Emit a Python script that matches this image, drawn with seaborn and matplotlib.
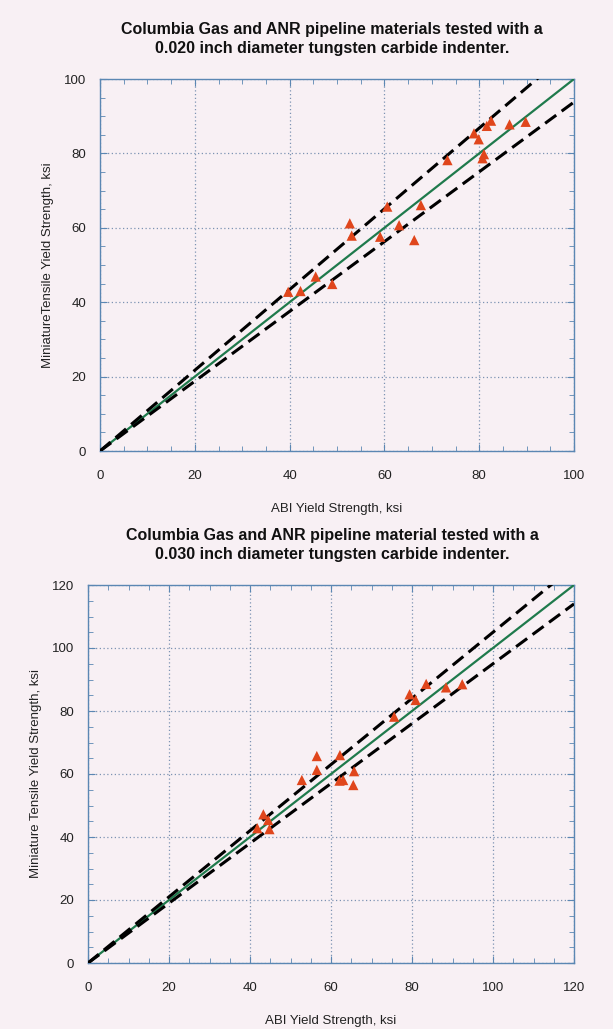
import matplotlib
matplotlib.use("Agg")
import matplotlib.pyplot as plt
from matplotlib.ticker import MultipleLocator
import seaborn as sns

# top panel: 0.020 inch indenter
top_abi = [39.7, 42.3, 45.5, 49.0, 52.7, 53.1, 59.1, 60.6, 63.1, 66.3,
           67.7, 73.3, 78.9, 79.9, 81.6, 82.5, 86.4, 89.8, 80.7, 81.0]
top_mini = [42.8, 43.0, 46.9, 44.9, 61.2, 57.9, 57.6, 65.7, 60.7, 56.7,
            66.1, 78.2, 85.4, 83.8, 87.4, 88.8, 87.8, 88.5, 78.7, 79.8]
top_line_x = [0, 100]
top_fit = [0, 100]
top_upper = [0, 108.5]
top_lower = [0, 93.8]

# bottom panel: 0.030 inch indenter
bot_abi = [41.8, 43.3, 44.5, 44.8, 52.8, 56.5, 56.5, 62.2, 62.1, 63.0,
           65.7, 65.5, 75.6, 79.4, 80.9, 83.5, 88.4, 92.4]
bot_mini = [42.8, 47.2, 45.4, 42.5, 58.1, 65.7, 61.3, 66.0, 57.9, 58.1,
            60.9, 56.5, 78.2, 85.3, 83.5, 88.6, 87.5, 88.5]
bot_line_x = [0, 120]
bot_fit = [0, 120]
bot_upper = [0, 126]
bot_lower = [0, 114]

top_title = ("Columbia Gas and ANR pipeline materials tested with a\n"
             "0.020 inch diameter tungsten carbide indenter.")
bot_title = ("Columbia Gas and ANR pipeline material tested with a\n"
             "0.030 inch diameter tungsten carbide indenter.")

bg = "#f8f0f4"
spine_c = "#5b87b3"
plt.rcParams["font.family"] = ["Liberation Sans", "DejaVu Sans"]

fig = plt.figure(figsize=(6.13, 10.29), dpi=100, facecolor=bg)
ax1 = fig.add_axes([100 / 613, 1 - 451 / 1029, 474 / 613, 372 / 1029])
ax2 = fig.add_axes([88 / 613, 1 - 963 / 1029, 486 / 613, 378 / 1029])


def draw(ax, lx, fit, up, lo, xs, ys, lim, ylab):
    ax.set_facecolor(bg)
    sns.lineplot(x=lx, y=fit, ax=ax, color="#1f7a4c", lw=1.6, zorder=3)
    sns.lineplot(x=lx, y=up, ax=ax, color="black", lw=2.2,
                 linestyle=(0, (4.5, 2.2)), zorder=3)
    sns.lineplot(x=lx, y=lo, ax=ax, color="black", lw=2.2,
                 linestyle=(0, (4.5, 2.2)), zorder=3)
    sns.scatterplot(x=xs, y=ys, ax=ax, marker="^", s=55, color="#e0461c",
                    edgecolor="none", linewidth=0, zorder=4)
    ax.set_xlim(0, lim)
    ax.set_ylim(0, lim)
    ax.xaxis.set_major_locator(MultipleLocator(20))
    ax.yaxis.set_major_locator(MultipleLocator(20))
    ax.xaxis.set_minor_locator(MultipleLocator(5))
    ax.yaxis.set_minor_locator(MultipleLocator(5))
    ax.grid(True, which="major", color="#7d93b3", lw=0.9, linestyle=(0, (1, 2)))
    ax.set_axisbelow(True)
    ax.tick_params(which="both", direction="in", top=True, right=True,
                   colors=spine_c, labelcolor="#222222", labelsize=9.5)
    ax.tick_params(which="major", length=5, pad=10)
    ax.tick_params(axis="x", which="major", pad=14)
    ax.tick_params(which="minor", length=3.5)
    for sp in ax.spines.values():
        sp.set_color(spine_c)
        sp.set_linewidth(1.0)
    ax.set_xlabel("ABI Yield Strength, ksi", fontsize=9.5, labelpad=15, color="#222222")
    ax.set_ylabel(ylab, fontsize=9.5, labelpad=7, color="#222222")


draw(ax1, top_line_x, top_fit, top_upper, top_lower, top_abi, top_mini, 100,
     "MiniatureTensile Yield Strength, ksi")
draw(ax2, bot_line_x, bot_fit, bot_upper, bot_lower, bot_abi, bot_mini, 120,
     "Miniature Tensile Yield Strength, ksi")

fig.text(332 / 613, 1 - 39 / 1029, top_title, ha="center", va="center",
         fontsize=11.5, fontweight="bold", linespacing=1.35, color="#111111")
fig.text(332 / 613, 1 - 545 / 1029, bot_title, ha="center", va="center",
         fontsize=11.5, fontweight="bold", linespacing=1.35, color="#111111")

fig.savefig("out.png", dpi=100, facecolor=bg)
